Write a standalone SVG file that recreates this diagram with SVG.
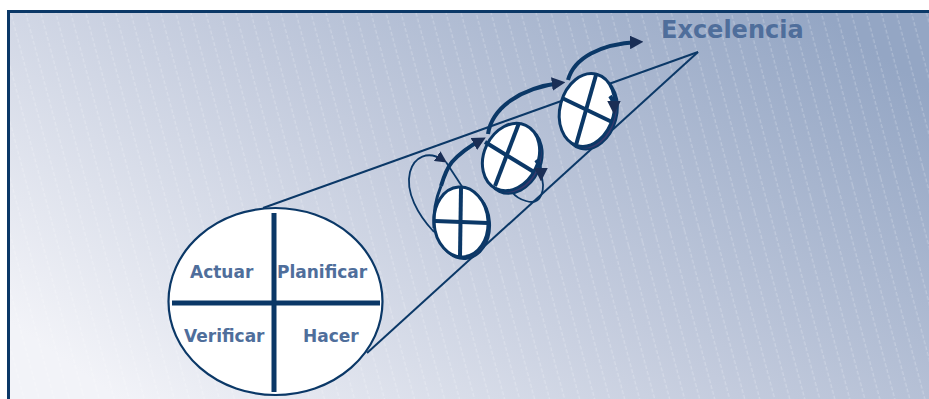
<svg xmlns="http://www.w3.org/2000/svg" width="929" height="399" viewBox="0 0 929 399">
<defs>
<linearGradient id="bg" x1="0" y1="0.8" x2="1" y2="0.2">
<stop offset="0" stop-color="#f2f3f8"/>
<stop offset="0.5" stop-color="#c3cbdd"/>
<stop offset="1" stop-color="#94a6c4"/>
</linearGradient>
<pattern id="stripes" patternUnits="userSpaceOnUse" width="14.5" height="400" patternTransform="rotate(-15)">
<line x1="7" y1="0" x2="7" y2="400" stroke="#ffffff" stroke-width="0.8" stroke-dasharray="4 2" opacity="0.35"/>
</pattern>
<marker id="ah" viewBox="0 0 10 10" refX="6" refY="5" markerWidth="3.4" markerHeight="3.4" orient="auto" markerUnits="strokeWidth">
<path d="M0,0 L10,5 L0,10 z" fill="#1a2e55"/>
</marker>
<marker id="ahs" viewBox="0 0 10 10" refX="6" refY="5" markerWidth="6.5" markerHeight="6.5" orient="auto" markerUnits="strokeWidth">
<path d="M0,0 L10,5 L0,10 z" fill="#1a2e55"/>
</marker>
</defs>
<style>
.dk{stroke:#0b3867;fill:none}
.lbl{font-family:"DejaVu Sans",Verdana,sans-serif;font-weight:bold;fill:#4f6e9b}
.disc{fill:#ffffff;stroke:#0b3867;stroke-width:3}
.rim{fill:#35396c;stroke:#0b3867;stroke-width:2}
.cross{stroke:#0b3867;stroke-width:4;fill:none}
.arr{stroke:#0b3867;stroke-width:4;fill:none;marker-end:url(#ah)}
.thin{stroke:#0b3867;stroke-width:1.8;fill:none}
</style>
<rect x="0" y="0" width="929" height="399" fill="#ffffff"/>
<rect x="8" y="11" width="921" height="388" fill="url(#bg)"/>
<rect x="8" y="11" width="921" height="388" fill="url(#stripes)"/>
<path d="M8.5 399 L8.5 11.5 L929 11.5" fill="none" stroke="#0b3867" stroke-width="3"/>

<g id="connectors">
<line class="dk" x1="263" y1="208" x2="698" y2="52" stroke-width="2"/>
<line class="dk" x1="367" y1="353" x2="698" y2="52" stroke-width="2"/>
<path class="thin" d="M434 232 C418 215 405 192 410 172 C414 157 428 150 443 160" marker-end="url(#ahs)"/>
<path class="thin" d="M446 162 L463 188"/>
<path class="thin" d="M540 172 C547 190 541 206 526 201 C519 199 515 196 512 192"/>
</g>

<g id="main-circle">
<ellipse cx="275.5" cy="301.5" rx="107" ry="93.5" fill="#ffffff" stroke="#0b3867" stroke-width="2.2"/>
<line x1="274" y1="213" x2="274" y2="392" stroke="#0b3867" stroke-width="5"/>
<line x1="172" y1="303" x2="380" y2="303" stroke="#0b3867" stroke-width="5"/>
<text class="lbl" x="190" y="278" font-size="17">Actuar</text>
<text class="lbl" x="277" y="278" font-size="17">Planificar</text>
<text class="lbl" x="184" y="342" font-size="17">Verificar</text>
<text class="lbl" x="303" y="342" font-size="17">Hacer</text>
</g>

<g id="disc1">
<ellipse class="rim" cx="463" cy="224" rx="27" ry="35" transform="rotate(-4 463 224)"/>
<ellipse class="disc" cx="461" cy="222" rx="27" ry="35" transform="rotate(-4 461 222)"/>
<line class="cross" x1="461" y1="188" x2="460" y2="256"/>
<line class="cross" x1="435" y1="221" x2="488" y2="223"/>
</g>

<g id="disc2">
<ellipse class="rim" cx="514" cy="160" rx="27" ry="35" transform="rotate(25 514 160)"/>
<ellipse class="disc" cx="511" cy="157" rx="27" ry="35" transform="rotate(25 511 157)"/>
<line class="cross" x1="485" y1="142" x2="534" y2="172"/>
<line class="cross" x1="519" y1="123" x2="495" y2="186"/>
</g>

<g id="disc3">
<ellipse class="rim" cx="590" cy="113" rx="27" ry="37" transform="rotate(15 590 113)"/>
<ellipse class="disc" cx="587" cy="110" rx="27" ry="37" transform="rotate(15 587 110)"/>
<line class="cross" x1="562" y1="98" x2="612" y2="122"/>
<line class="cross" x1="596" y1="75" x2="576" y2="145"/>
</g>

<g id="arrows">
<path d="M434 228 C433 212 436 198 441 186" stroke="#0b3867" stroke-width="3" fill="none"/>
<path class="arr" d="M441 186 C444 176 447 168 452 162 C461 152 470 146 481 140"/>
<path class="arr" d="M488 134 C492 108 520 88 560 83"/>
<path class="arr" d="M568 80 C574 58 600 44 638 42"/>
<path class="arr" d="M536 160 C540 165 541 170 541 176"/>
<path class="arr" d="M610 96 C613 100 614 104 614 109"/>
</g>

<g id="title">
<text class="lbl" x="661" y="38" font-size="24">Excelencia</text>
</g>
</svg>
